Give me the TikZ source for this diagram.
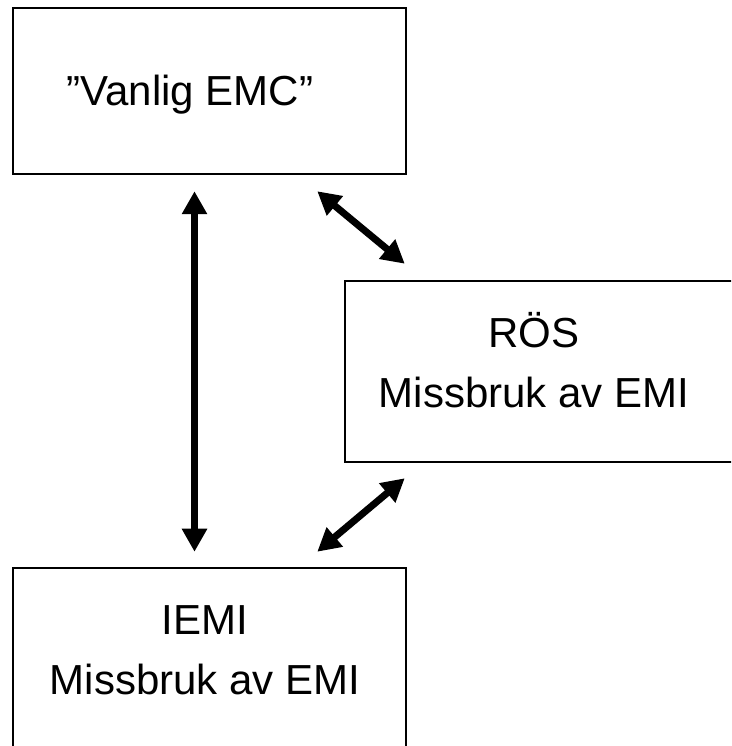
\documentclass[tikz,border=0pt]{standalone}
\usepackage{fontspec}
\setmainfont{Liberation Sans}
\usetikzlibrary{arrows.meta}

\begin{document}
\begin{tikzpicture}[x=1pt,y=1pt,
  box/.style={draw,line width=2.5pt,minimum width=393pt,inner sep=0pt},
  txt/.style={font=\fontsize{42}{60}\selectfont,align=center,anchor=base,inner sep=0pt},
  biarrow/.style={line width=7pt,{Triangle[length=23pt,width=24pt]}-{Triangle[length=23pt,width=24pt]}}]
 \useasboundingbox (0,0) rectangle (731,746);
 \clip (0,0) rectangle (731,746);
 \node[box,minimum height=166pt] (vanlig) at (209.5,655) {};
 \node[box,minimum height=181pt] (ros) at (541.5,374.5) {};
 \node[box,minimum height=181pt] (iemi) at (209.5,87.5) {};
 \node[txt] (vanligtxt) at ([shift={(-19.5pt,-14.5pt)}]vanlig.center) {”Vanlig EMC”};
 \node[txt] (rostxt) at ([shift={(-7.5pt,-36.5pt)}]ros.center) {RÖS\\Missbruk av EMI};
 \node[txt] (iemitxt) at ([shift={(-4.5pt,-36pt)}]iemi.center) {IEMI\\Missbruk av EMI};
 \draw[biarrow,shorten <=16pt,shorten >=15pt] ([xshift=-15pt]vanlig.south) -- ([xshift=-15pt]iemi.north);
 \draw[biarrow] ([shift={(-90pt,-16pt)}]vanlig.south east) -- ([shift={(61pt,16pt)}]ros.north west);
 \draw[biarrow] ([shift={(-90pt,15pt)}]iemi.north east) -- ([shift={(61pt,-15pt)}]ros.south west);
\end{tikzpicture}
\end{document}
